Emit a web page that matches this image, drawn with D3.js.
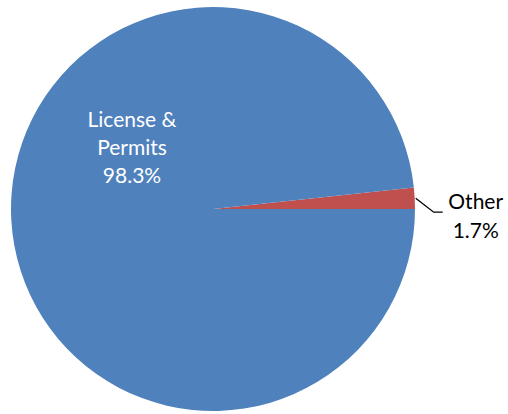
<!DOCTYPE html>
<html>
<head>
<meta charset="utf-8">
<script src="https://cdn.jsdelivr.net/npm/d3@7"></script>
<style>
  body { margin: 0; background: #fff; }
  text { font-family: Lato, "Open Sans", sans-serif; }
</style>
</head>
<body>
<div id="chart"></div>
<script>
const categories = ["Other", "License & Permits"];
const values = [1.7, 98.3];
const labelLines = [["Other", "1.7%"], ["License &", "Permits", "98.3%"]];
const colors = ["#C0504D", "#4F81BD"];

const width = 508, height = 414;
const cx = 213, cy = 209, radius = 202;

const svg = d3.select("#chart")
    .append("svg")
    .attr("width", width)
    .attr("height", height);

const g = svg.append("g").attr("transform", `translate(${cx},${cy})`);

// first slice ends at 3 o'clock, the rest runs clockwise from there
const total = d3.sum(values);
const start = Math.PI / 2 - values[0] / total * 2 * Math.PI;
const pie = d3.pie().sort(null).startAngle(start).endAngle(start + 2 * Math.PI);
const arcs = pie(values);
const arc = d3.arc().innerRadius(0).outerRadius(radius);

g.selectAll(".slice")
    .data(arcs)
    .enter()
    .append("path")
    .attr("class", "slice")
    .attr("d", arc)
    .attr("fill", (d, i) => colors[i]);

// big slice label, inside
const inside = g.append("text")
    .attr("text-anchor", "middle")
    .attr("fill", "#fff")
    .attr("font-size", 21);
labelLines[1].forEach((t, i) => {
    inside.append("tspan")
        .attr("x", -81)
        .attr("y", -82 + i * 28)
        .text(t);
});

// small slice label with leader line
const mid = (arcs[0].startAngle + arcs[0].endAngle) / 2;
const p0 = d3.pointRadial(mid, radius + 1);
const p1 = [p0[0] + 18, p0[1] + 14];
const p2 = [p1[0] + 9, p1[1]];
g.append("polyline")
    .attr("points", [p0, p1, p2].map(p => p.join(",")).join(" "))
    .attr("fill", "none")
    .attr("stroke", "#000")
    .attr("stroke-width", 1.3);

const outside = g.append("text")
    .attr("text-anchor", "middle")
    .attr("fill", "#000")
    .attr("font-size", 21);
labelLines[0].forEach((t, i) => {
    outside.append("tspan")
        .attr("x", p2[0] + 33)
        .attr("y", p2[1] - 3 + i * 29)
        .text(t);
});
</script>
</body>
</html>
